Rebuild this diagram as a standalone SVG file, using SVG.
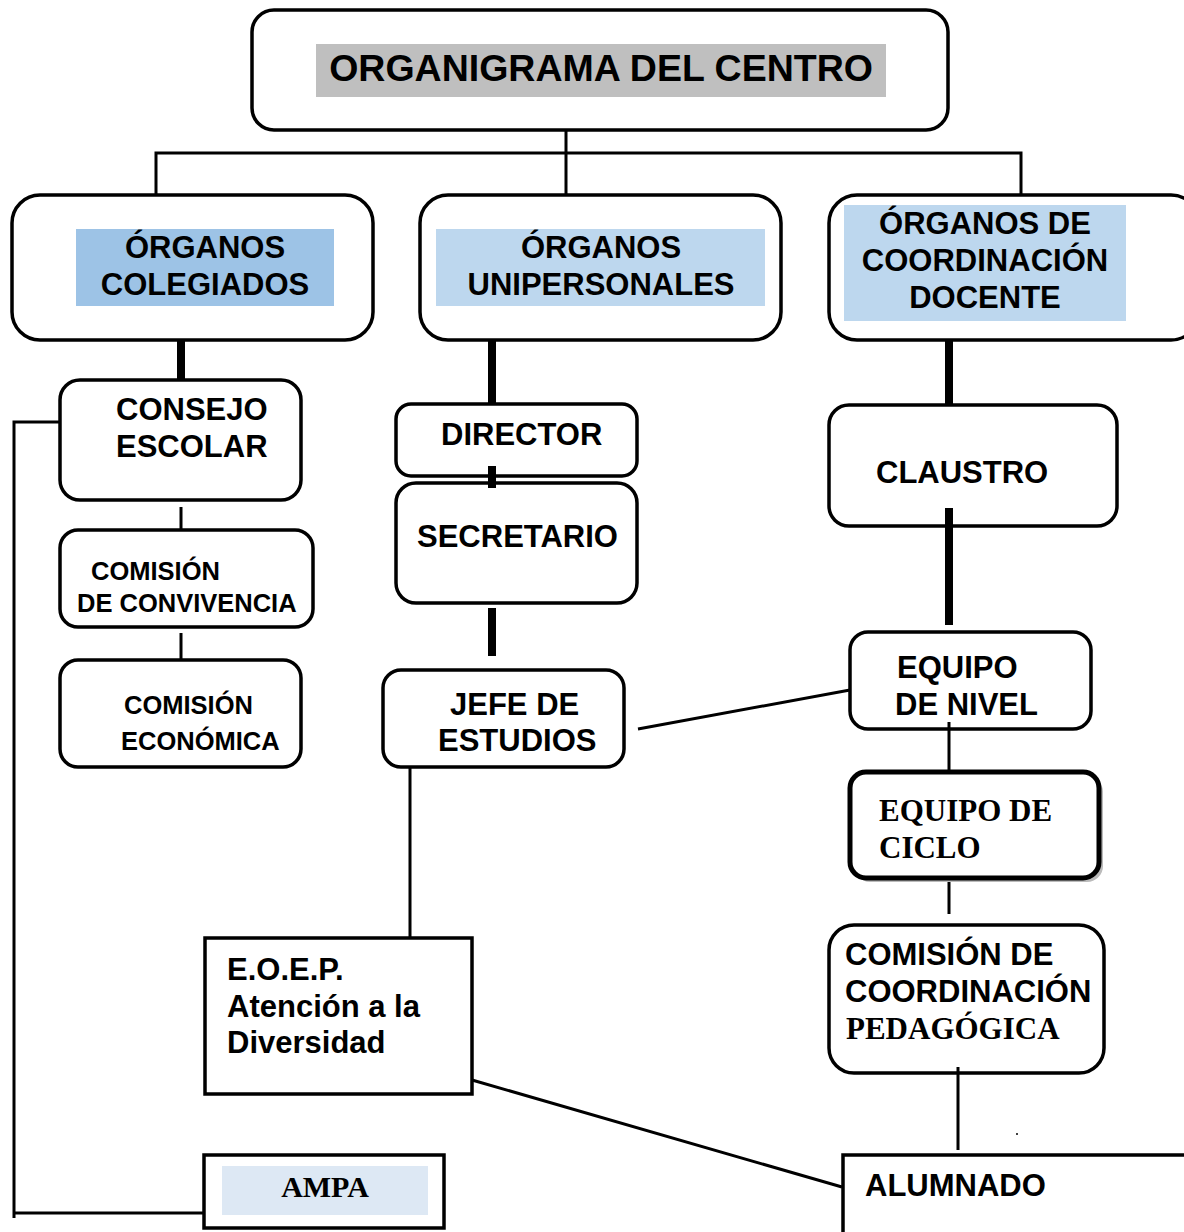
<svg xmlns="http://www.w3.org/2000/svg" width="1184" height="1232" viewBox="0 0 1184 1232">
<style>
.box{fill:#fff;stroke:#000;stroke-width:3.5}
.t{font-family:"Liberation Sans",Arial,sans-serif;font-weight:bold;fill:#000}
.s{font-family:"Liberation Serif","Times New Roman",serif;font-weight:bold;fill:#000}
.thin{stroke:#000;stroke-width:3;fill:none}
.thick{stroke:#000;stroke-width:8;fill:none}
</style>
<rect width="1184" height="1232" fill="#fff"/>
<g id="connectors">
<path class="thin" d="M566 118V200M156 200V153H1021V200"/>
<path class="thick" d="M181 335V380M492 340V405M949 327V405M492 466V488M492 608V656M949 508V625"/>
<path class="thin" d="M181 507V530M181 633V667M60 422H14V1218M14 1213H204"/>
<path class="thin" d="M638 729L850 690M410 767V938M949 722V772M949 878V914M958 1067V1150M472 1080L842 1187"/>
<circle cx="1017" cy="1134" r="1" fill="#000"/>
</g>
<g id="title">
<rect class="box" x="252" y="10" width="696" height="120" rx="22"/>
<rect x="316" y="44" width="570" height="53" fill="#bfbfbf"/>
<text class="t" x="601" y="81" font-size="37.5" text-anchor="middle">ORGANIGRAMA DEL CENTRO</text>
</g>
<g id="colegiados">
<rect class="box" x="12" y="195" width="361" height="145" rx="28"/>
<rect x="76" y="229" width="258" height="77" fill="#9dc3e6"/>
<text class="t" x="205" y="258" font-size="31" text-anchor="middle">ÓRGANOS</text>
<text class="t" x="205" y="295" font-size="31" text-anchor="middle">COLEGIADOS</text>
</g>
<g id="unipersonales">
<rect class="box" x="420" y="195" width="361" height="145" rx="28"/>
<rect x="436" y="229" width="329" height="77" fill="#bdd7ee"/>
<text class="t" x="601" y="258" font-size="31" text-anchor="middle">ÓRGANOS</text>
<text class="t" x="601" y="295" font-size="31" text-anchor="middle">UNIPERSONALES</text>
</g>
<g id="coordinacion">
<rect class="box" x="829" y="195" width="370" height="145" rx="28"/>
<rect x="844" y="205" width="282" height="116" fill="#bdd7ee"/>
<text class="t" x="985" y="234" font-size="31" text-anchor="middle">ÓRGANOS DE</text>
<text class="t" x="985" y="271" font-size="31" text-anchor="middle">COORDINACIÓN</text>
<text class="t" x="985" y="308" font-size="31" text-anchor="middle">DOCENTE</text>
</g>
<g id="consejo">
<rect class="box" x="60" y="380" width="241" height="120" rx="20"/>
<text class="t" x="116" y="420" font-size="31">CONSEJO</text>
<text class="t" x="116" y="457" font-size="31">ESCOLAR</text>
</g>
<g id="convivencia">
<rect class="box" x="60" y="530" width="253" height="97" rx="18"/>
<text class="t" x="91" y="580" font-size="25.5">COMISIÓN</text>
<text class="t" x="77" y="612" font-size="25.5">DE CONVIVENCIA</text>
</g>
<g id="economica">
<rect class="box" x="60" y="660" width="241" height="107" rx="18"/>
<text class="t" x="124" y="714" font-size="25.5">COMISIÓN</text>
<text class="t" x="121" y="750" font-size="25.5">ECONÓMICA</text>
</g>
<g id="director">
<rect class="box" x="396" y="404" width="241" height="72" rx="15"/>
<text class="t" x="441" y="445" font-size="31">DIRECTOR</text>
</g>
<g id="secretario">
<rect class="box" x="396" y="483" width="241" height="120" rx="20"/>
<text class="t" x="417" y="547" font-size="31">SECRETARIO</text>
</g>
<path class="thick" d="M492 466V488"/>
<g id="jefe">
<rect class="box" x="383" y="670" width="241" height="97" rx="18"/>
<text class="t" x="450" y="715" font-size="31">JEFE DE</text>
<text class="t" x="438" y="751" font-size="31">ESTUDIOS</text>
</g>
<g id="claustro">
<rect class="box" x="829" y="405" width="288" height="121" rx="20"/>
<text class="t" x="876" y="483" font-size="31">CLAUSTRO</text>
</g>
<path class="thick" d="M949 508V526"/>
<g id="nivel">
<rect class="box" x="850" y="632" width="241" height="97" rx="18"/>
<text class="t" x="897" y="678" font-size="31">EQUIPO</text>
<text class="t" x="895" y="715" font-size="31">DE NIVEL</text>
</g>
<path class="thin" d="M949 722V729"/>
<g id="ciclo">
<rect x="854" y="776" width="249" height="106" rx="16" fill="#bbb"/>
<rect x="850" y="772" width="249" height="106" rx="16" fill="#fff" stroke="#000" stroke-width="5"/>
<text class="s" x="879" y="821" font-size="31">EQUIPO DE</text>
<text class="s" x="879" y="858" font-size="31">CICLO</text>
</g>
<g id="ccp">
<rect class="box" x="829" y="925" width="275" height="148" rx="25"/>
<text class="t" x="845" y="965" font-size="31">COMISIÓN DE</text>
<text class="t" x="845" y="1002" font-size="31">COORDINACIÓN</text>
<text class="s" x="846" y="1039" font-size="31">PEDAGÓGICA</text>
</g>
<path class="thin" d="M958 1067V1073"/>
<g id="eoep">
<rect x="205" y="938" width="267" height="156" fill="#fff" stroke="#000" stroke-width="3.5"/>
<text class="t" x="227" y="980" font-size="31">E.O.E.P.</text>
<text class="t" x="227" y="1017" font-size="31">Atención a la</text>
<text class="t" x="227" y="1053" font-size="31">Diversidad</text>
</g>
<g id="ampa">
<rect x="204" y="1155" width="240" height="73" fill="#fff" stroke="#000" stroke-width="3.5"/>
<rect x="222" y="1166" width="206" height="49" fill="#dde8f4"/>
<text class="s" x="325" y="1197" font-size="30" text-anchor="middle">AMPA</text>
</g>
<g id="alumnado">
<rect x="843" y="1155" width="360" height="100" fill="#fff" stroke="#000" stroke-width="3.5"/>
<text class="t" x="865" y="1196" font-size="31">ALUMNADO</text>
</g>
</svg>
